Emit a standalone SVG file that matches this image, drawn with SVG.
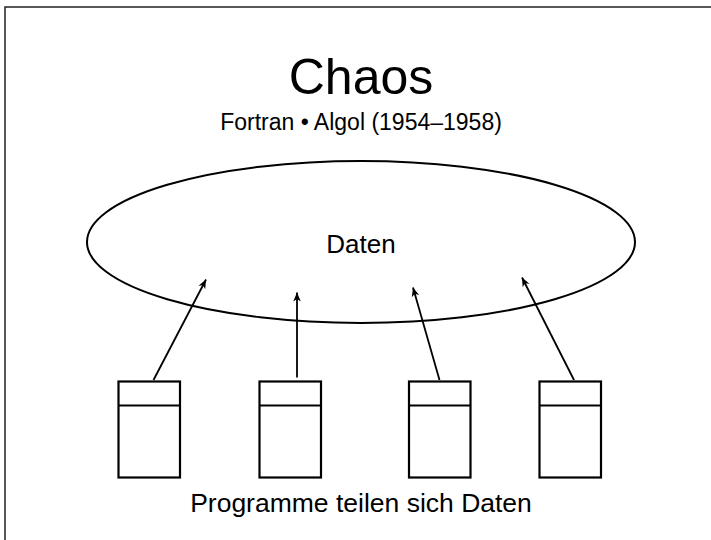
<svg xmlns="http://www.w3.org/2000/svg" width="711" height="540" viewBox="0 0 711 540">
<style>
text{font-family:"Liberation Sans",Arial,sans-serif;fill:#000;text-anchor:middle}
.box{fill:#fff;stroke:#000;stroke-width:2.2}
.div{stroke:#000;stroke-width:2.2}
.conn{stroke:#000;stroke-width:1.8;fill:none;marker-end:url(#ah)}
</style>
<defs>
<marker id="ah" markerWidth="12" markerHeight="10" viewBox="-10 -5 12 10" refX="0" refY="0" orient="auto" markerUnits="userSpaceOnUse">
<path d="M0,0 L-9,-3.8 L-6.5,0 L-9,3.8 Z" fill="#000"/>
</marker>
</defs>
<rect x="0" y="0" width="711" height="540" fill="#fff"/>
<path d="M5,540 V7 H711" fill="none" stroke="#222" stroke-width="1.5"/>
<g id="title">
<text x="361" y="94" font-size="50">Chaos</text>
<text x="361" y="130" font-size="23">Fortran • Algol (1954–1958)</text>
</g>
<g id="daten">
<ellipse cx="361" cy="242" rx="274" ry="81" fill="none" stroke="#000" stroke-width="2"/>
<text x="361" y="253" font-size="26">Daten</text>
</g>
<g id="prog1"><rect class="box" x="118.5" y="381.5" width="61.5" height="96"/><line class="div" x1="118.5" y1="405.5" x2="180" y2="405.5"/></g>
<g id="prog2"><rect class="box" x="259.5" y="381.5" width="61.5" height="96"/><line class="div" x1="259.5" y1="405.5" x2="321" y2="405.5"/></g>
<g id="prog3"><rect class="box" x="409" y="381.5" width="61.5" height="96"/><line class="div" x1="409" y1="405.5" x2="470.5" y2="405.5"/></g>
<g id="prog4"><rect class="box" x="539.5" y="381.5" width="61.5" height="96"/><line class="div" x1="539.5" y1="405.5" x2="601" y2="405.5"/></g>
<g id="connectors">
<line class="conn" x1="153.5" y1="380" x2="206" y2="279.5"/>
<line class="conn" x1="297" y1="377.5" x2="297" y2="292.5"/>
<line class="conn" x1="439.5" y1="380" x2="413" y2="287.5"/>
<line class="conn" x1="574" y1="380" x2="522" y2="277.5"/>
</g>
<g id="caption">
<text x="361" y="512" font-size="26.5">Programme teilen sich Daten</text>
</g>
</svg>
